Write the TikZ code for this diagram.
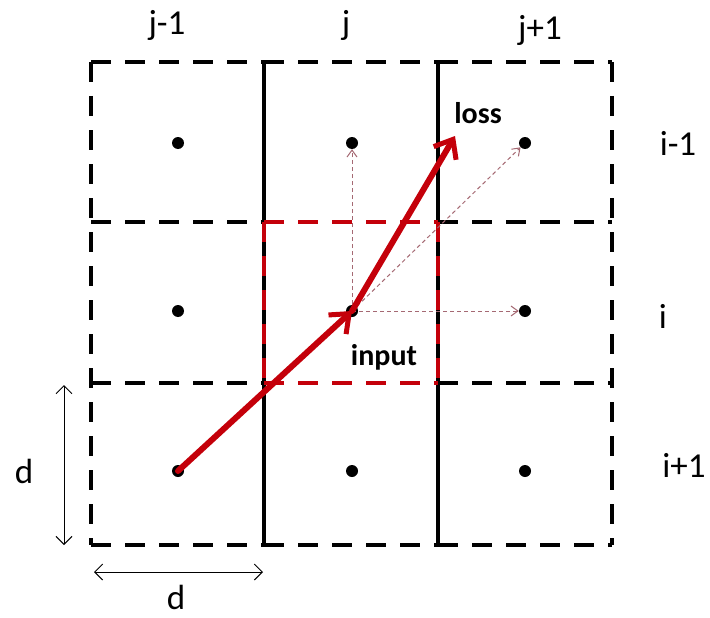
\documentclass[tikz,border=0pt]{standalone}
\usepackage{fontspec}
\setmainfont{Carlito}
\usetikzlibrary{arrows.meta}
\definecolor{dred}{RGB}{196,0,10}
\definecolor{thinred}{RGB}{165,105,115}
\tikzset{
  gridd/.style={line width=3.8pt, dash pattern=on 20pt off 14pt},
  gridsolid/.style={line width=3.4pt},
  reddash/.style={line width=3.8pt, dred, dash pattern=on 20pt off 14pt},
  dot/.style={circle, fill=black, inner sep=0pt, minimum size=12pt},
  bigarrow/.style={line width=6pt, dred, -{Straight Barb[length=16pt,width=26pt,line width=5pt]}},
  thinarrow/.style={line width=1pt, thinred, dash pattern=on 4pt off 3pt, -{Straight Barb[length=7pt,width=10pt,line width=1pt]}},
  dim/.style={line width=1pt, {Straight Barb[length=8pt,width=16pt,line width=1pt]}-{Straight Barb[length=8pt,width=16pt,line width=1pt]}},
  lab/.style={font=\fontsize{35}{37}\selectfont, inner sep=0pt, anchor=base},
  blab/.style={font=\bfseries\fontsize{30}{32}\selectfont, inner sep=0pt, anchor=base}
}
\begin{document}
\begin{tikzpicture}[x=1pt,y=-1pt]
\useasboundingbox (0,0) rectangle (710,618);
\fill[white] (0,0) rectangle (710,618);
% outer dashed border and horizontal dashed lines
\draw[gridd] (91,62) -- (91,545);
\draw[gridd] (612,62) -- (612,545);
\draw[gridd] (91,62) -- (264,62);
\draw[gridd] (264,62) -- (438,62);
\draw[gridd] (438,62) -- (612,62);
\draw[gridd] (91,545) -- (264,545);
\draw[gridd] (264,545) -- (438,545);
\draw[gridd] (438,545) -- (612,545);
\draw[gridd] (91,222) -- (264,222);
\draw[gridd] (438,222) -- (612,222);
\draw[gridd] (91,383) -- (264,383);
\draw[gridd] (438,383) -- (612,383);
% solid verticals
\draw[gridsolid] (264,62) -- (264,545);
\draw[gridsolid] (438,62) -- (438,545);
% red dashed middle cell
\draw[reddash] (264,222) -- (438,222);
\draw[reddash] (264,383) -- (438,383);
\draw[reddash] (264,222) -- (264,383);
\draw[reddash] (438,222) -- (438,383);
% dots
\node[dot] (c11) at (178,143) {};
\node[dot] (c12) at (352,143) {};
\node[dot] (c13) at (525,143) {};
\node[dot] (c21) at (178,311) {};
\node[dot] (c22) at (352,311) {};
\node[dot] (c23) at (525,311) {};
\node[dot] (c31) at (178,471) {};
\node[dot] (c32) at (352,471) {};
\node[dot] (c33) at (525,471) {};
\coordinate (losstip) at (455,136);
% thin dashed arrows
\draw[thinarrow] (c22.center) -- (c12);
\draw[thinarrow] (c22.center) -- (c13);
\draw[thinarrow] (c22.center) -- (c23);
% big red arrows
\draw[bigarrow, line cap=round] (c31.center) -- (c22.center);
\draw[bigarrow, line cap=round] (c22.center) -- (losstip);
% labels
\node[blab] (loss) at (478,123) {loss};
\node[blab] (input) at (384,365) {input};
\node[lab] (jm) at (167,35) {j-1};
\node[lab] (j0) at (346,35) {j};
\node[lab] (jp) at (540,40) {j+1};
\node[lab] (im) at (678,155) {i-1};
\node[lab] (i0) at (663,328) {i};
\node[lab] (ip) at (684,477) {i+1};
% dimensions
\coordinate (va) at (64,385);
\coordinate (vb) at (64,545);
\coordinate (ha) at (94,572);
\coordinate (hb) at (263,572);
\draw[dim] (va) -- (vb);
\draw[dim] (ha) -- (hb);
\node[lab] (dl) at (24,483) {d};
\node[lab] (db) at (176,609) {d};
\end{tikzpicture}
\end{document}
